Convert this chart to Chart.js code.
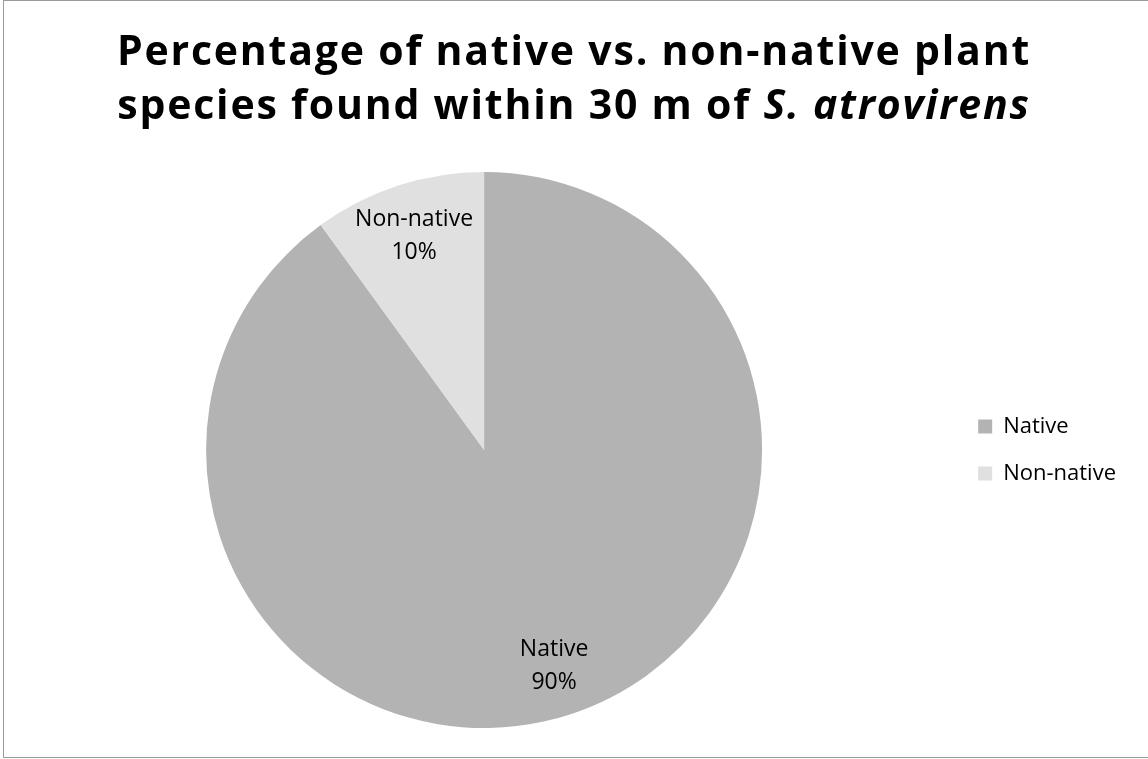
<!DOCTYPE html>
<html lang="en">
  <head>
    <meta charset="UTF-8" />
    <title>native vs non-native</title>
    <script src="https://cdn.jsdelivr.net/npm/chart.js@4.4.0/dist/chart.umd.min.js"></script>
    <style>
      body { margin: 0; background: #fff; font-family: "Open Sans", sans-serif; }
      .frame {
        position: absolute; left: 3px; top: 0; width: 1148px; height: 758px;
        border: 1px solid #9a9a9a; box-sizing: border-box;
      }
      #title {
        position: absolute; left: 0; top: 22px; width: 1148px; text-align: center;
        font-weight: bold; font-size: 41px; line-height: 54px; letter-spacing: 1.8px; color: #000;
      }
      .wrap { position: absolute; left: 3px; top: 0; width: 1145px; height: 758px; }
    </style>
  </head>
  <body>
    <div class="frame"></div>
    <div class="wrap"><canvas id="pie"></canvas></div>
    <div id="title">Percentage of native vs. non-native plant<br />species found within 30 m of <i>S. atrovirens</i></div>

    <script>
      const categories = ["Native", "Non-native"];
      const percents = [90, 10];
      const sliceColors = ["#b3b3b3", "#e0e0e0"];

      // draws "Name\nNN%" inside each slice
      const sliceLabels = {
        id: "sliceLabels",
        afterDatasetsDraw(chart) {
          const ctx = chart.ctx;
          const meta = chart.getDatasetMeta(0);
          ctx.save();
          ctx.font = "23px 'Open Sans'";
          ctx.fillStyle = "#000";
          ctx.textAlign = "center";
          ctx.textBaseline = "alphabetic";
          meta.data.forEach((arc, i) => {
            const mid = (arc.startAngle + arc.endAngle) / 2;
            const r = arc.outerRadius * 0.815;
            const x = arc.x + Math.cos(mid) * r;
            const y = arc.y + Math.sin(mid) * r;
            ctx.fillText(categories[i], x, y - 9);
            ctx.fillText(percents[i] + "%", x, y + 24);
          });
          ctx.restore();
        },
      };

      new Chart(document.getElementById("pie"), {
        type: "pie",
        data: {
          labels: categories,
          datasets: [
            {
              data: percents,
              backgroundColor: sliceColors,
              borderWidth: 0,
            },
          ],
        },
        options: {
          responsive: true,
          maintainAspectRatio: false,
          animation: false,
          layout: { padding: { top: 172, bottom: 30, left: 12, right: 22 } },
          plugins: {
            tooltip: { enabled: false },
            legend: {
              position: "right",
              labels: {
                boxWidth: 14,
                boxHeight: 14,
                padding: 25,
                color: "#000",
                font: { family: "Open Sans", size: 22 },
              },
            },
          },
        },
        plugins: [sliceLabels],
      });
    </script>
  </body>
</html>
